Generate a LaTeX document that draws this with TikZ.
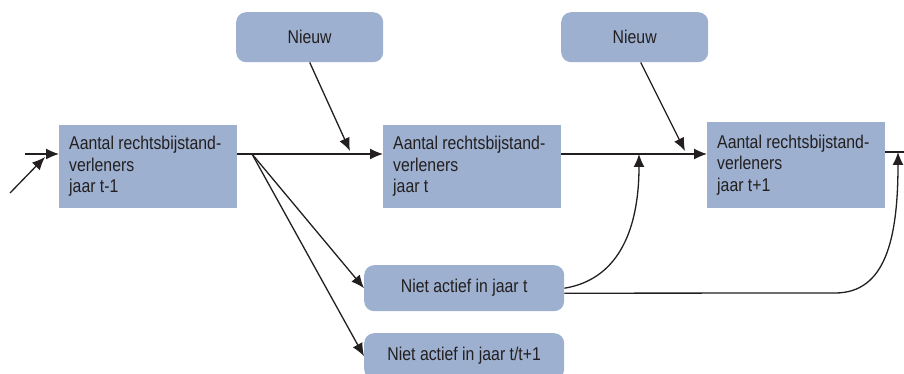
\documentclass[tikz,border=0pt]{standalone}
\usepackage{fontspec}
\setmainfont{Liberation Sans}[FakeStretch=0.855]
\usetikzlibrary{arrows.meta}
\definecolor{boxblue}{RGB}{157,176,207}
\definecolor{inkgray}{RGB}{35,31,32}

\begin{document}
\begin{tikzpicture}[x=1pt,y=-1pt,
  stock/.style={fill=boxblue,text=inkgray,anchor=north west,text width=158pt,
    inner xsep=10pt,align=flush left,minimum height=83pt,
    font=\fontsize{18.5}{21.5}\selectfont},
  flow/.style={fill=boxblue,text=inkgray,rounded corners=10pt,anchor=north west,
    minimum height=46pt,font=\fontsize{18.5}{21.5}\selectfont},
  pijl/.style={-{Latex[length=13pt,width=11pt]},line width=1.3pt,draw=inkgray},
  lijn/.style={line width=1.3pt,draw=inkgray}]
\useasboundingbox (0,0) rectangle (904,374);

% boxes
\node[stock] (jaar0) at (59,125) {Aantal rechtsbijstand-\\verleners\\jaar t-1};
\node[stock] (jaar1) at (383,125) {Aantal rechtsbijstand-\\verleners\\jaar t};
\node[stock,minimum height=86pt] (jaar2) at (707,122) {Aantal rechtsbijstand-\\verleners\\jaar t+1};
\node[flow,minimum width=147pt,minimum height=50pt] (nieuw1) at (236,12) {Nieuw};
\node[flow,minimum width=147pt,minimum height=50pt] (nieuw2) at (561,12) {Nieuw};
\node[flow,minimum width=200pt] (niet1) at (364,265) {Niet actief in jaar t};
\node[flow,minimum width=200pt] (niet2) at (364,333) {Niet actief in jaar t/t+1};

% points on the main line
\coordinate (m) at (0,154);
\coordinate (in1) at (25,154);
\coordinate (in2) at (10,193);
\coordinate (in2t) at (45,157);
\coordinate (split) at (252,154);
\coordinate (n1) at (350,151);
\coordinate (n2) at (685,151);
\coordinate (j1) at (639,154);
\coordinate (j2) at (898,152);
\coordinate (uit) at (904,152);

% main flow
\draw[pijl] (in1) -- (jaar0.west |- m);
\draw[pijl] (in2) -- (in2t);
\draw[pijl] (jaar0.east |- m) -- (jaar1.west |- m);
\draw[pijl] (jaar1.east |- m) -- (jaar2.west |- m);
\draw[lijn] (jaar2.east |- uit) -- (uit);

% new ones
\draw[pijl] (nieuw1.south) -- (n1);
\draw[pijl] ([xshift=6pt]nieuw2.south) -- (n2);

% leaving and coming back
\draw[pijl] (split) -- (niet1.west);
\draw[pijl] (split) -- (niet2.west);
\draw[pijl] (niet1.east) .. controls (615,280) and (639,235) .. (j1);
\draw[pijl] ([yshift=-5pt]niet1.east) -- (835,293) .. controls (885,293) and (898,240) .. (j2);
\end{tikzpicture}
\end{document}
